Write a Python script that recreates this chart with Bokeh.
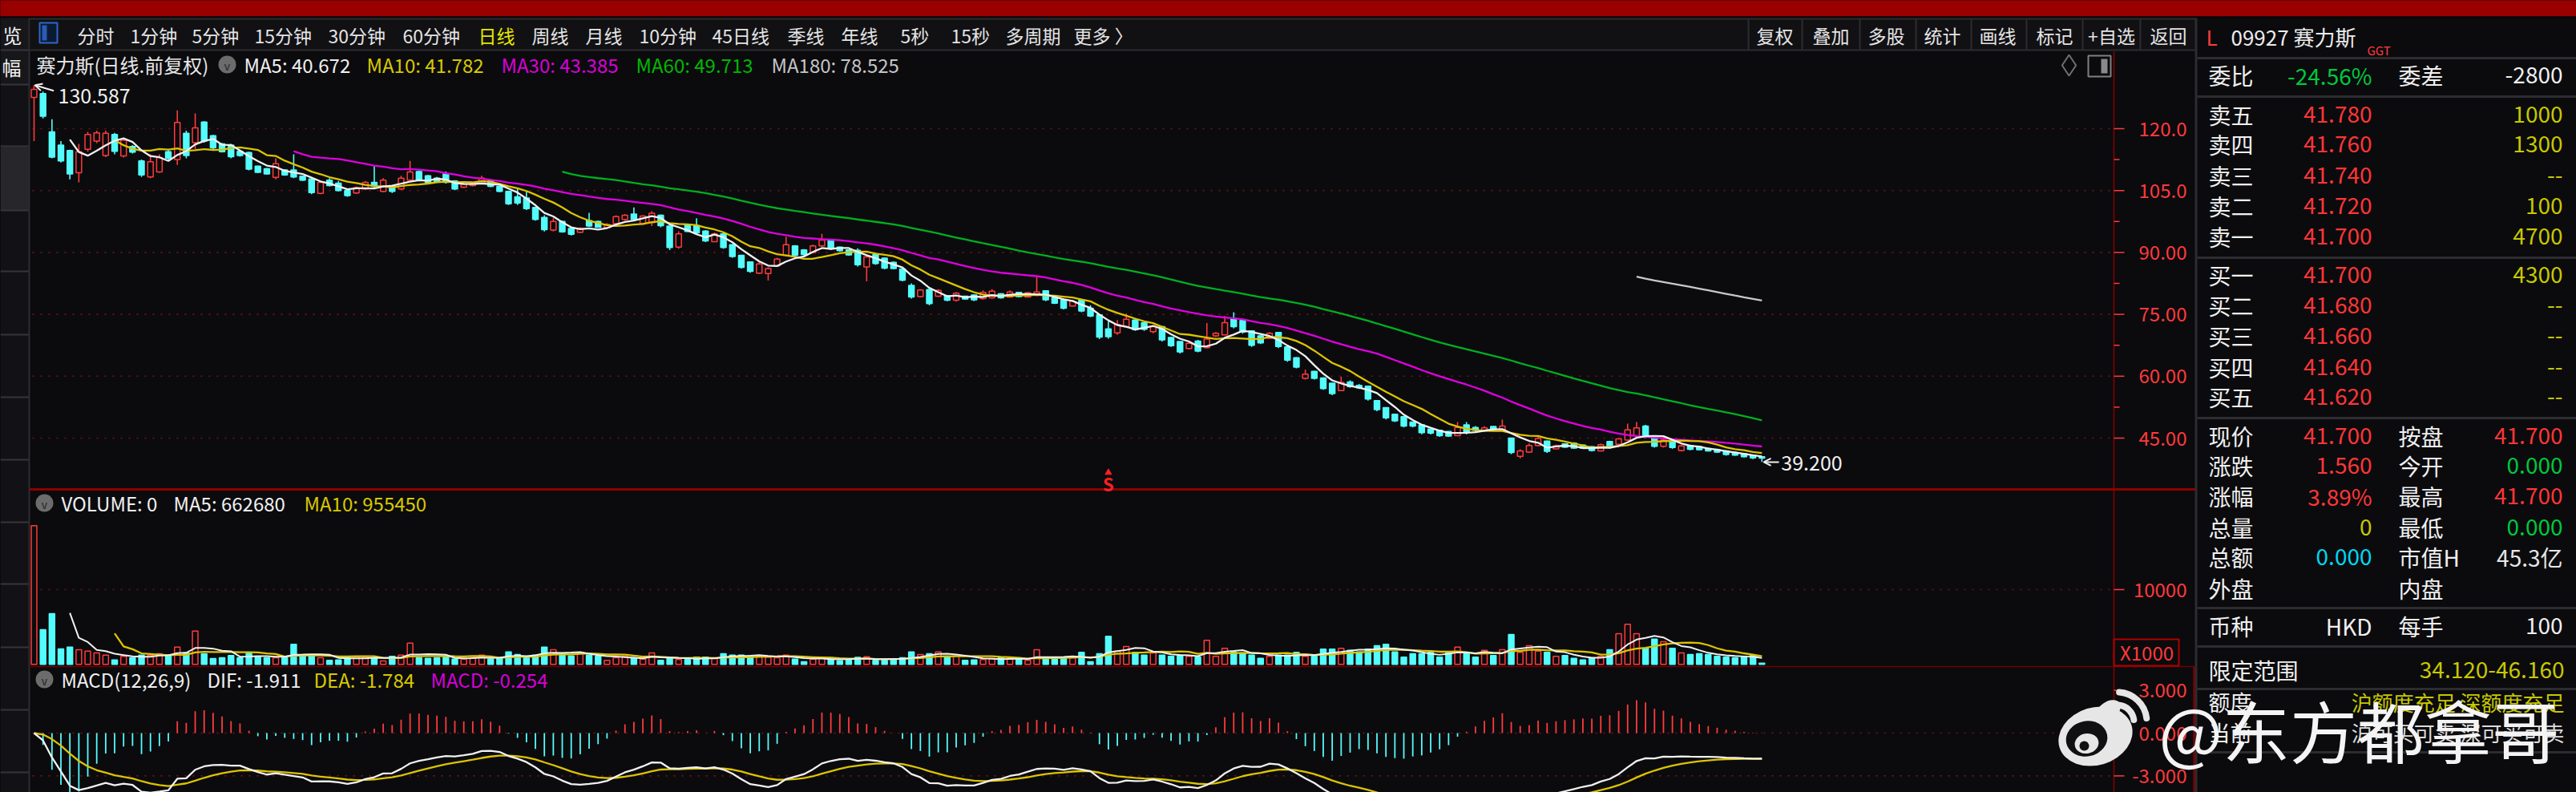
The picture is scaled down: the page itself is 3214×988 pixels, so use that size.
import numpy as np
import pandas as pd
from bokeh.plotting import figure
from bokeh.models import Range1d, Arrow, OpenHead
from bokeh.core.properties import value
from bokeh.embed import file_html
from bokeh.resources import INLINE

# ---------------------------------------------------------------- data
opens = [127.6, 128.5, 119.2, 116.0, 114.7, 109.3, 115.0, 117.0, 113.5, 118.6,
         113.4, 115.7, 112.2, 108.3, 109.5, 114.4, 112.5, 118.9, 116.6, 121.6,
         118.3, 116.3, 116.0, 114.5, 114.2, 110.9, 110.3, 108.2, 110.0, 110.0,
         108.5, 107.8, 104.3, 107.5, 106.8, 105.0, 104.4, 105.4, 107.0, 104.8,
         106.0, 105.4, 107.5, 109.6, 108.6, 108.0, 109.0, 107.3, 105.8, 106.2,
         106.7, 107.3, 106.0, 104.8, 103.5, 103.2, 100.9, 98.5, 95.4, 97.5,
         95.8, 94.9, 97.7, 97.5, 96.0, 97.0, 98.0, 99.3, 97.0, 97.2,
         99.0, 96.4, 91.3, 96.8, 96.5, 95.2, 92.6, 94.5, 91.9, 89.3,
         87.7, 85.0, 84.9, 86.8, 89.3, 91.6, 90.6, 90.0, 91.6, 92.9,
         91.3, 90.6, 90.5, 86.5, 89.5, 88.6, 87.6, 86.0, 82.0, 79.3,
         81.0, 79.4, 79.5, 78.4, 79.4, 79.7, 78.8, 79.0, 80.0, 79.2,
         80.3, 79.2, 79.6, 80.7, 79.0, 78.5, 77.0, 78.5, 76.5, 74.9,
         71.5, 70.5, 72.0, 73.6, 73.0, 70.8, 72.0, 69.4, 68.4, 66.7,
         68.5, 66.9, 69.8, 70.0, 74.0, 73.5, 71.0, 69.8, 69.2, 70.6,
         67.1, 64.5, 59.5, 61.2, 59.6, 58.3, 56.5, 58.6, 57.8, 57.6,
         54.1, 52.4, 50.8, 50.2, 48.9, 48.2, 47.2, 46.9, 46.6, 45.6,
         48.2, 47.6, 46.9, 47.8, 47.0, 45.0, 40.6, 41.6, 43.2, 44.3,
         42.4, 43.6, 43.8, 43.3, 42.9, 41.9, 44.2, 43.5, 44.5, 45.5,
         47.9, 45.0, 43.0, 44.3, 42.0, 43.2, 42.9, 42.5, 42.2, 41.9,
         41.5, 41.2, 40.8, 40.5]
highs = [130.587, 129.0, 122.3, 117.0, 114.9, 116.3, 119.2, 119.5, 119.5, 119.0,
         117.6, 116.0, 112.5, 113.8, 113.8, 115.0, 124.4, 119.5, 123.7, 121.8,
         118.5, 116.5, 116.3, 114.7, 114.4, 111.0, 110.5, 112.8, 110.2, 113.8,
         108.6, 108.0, 107.3, 108.0, 107.3, 105.4, 106.0, 107.3, 110.9, 108.0,
         106.2, 108.6, 112.2, 109.8, 108.8, 108.3, 109.6, 107.5, 106.7, 107.0,
         108.6, 107.5, 106.2, 105.0, 105.4, 104.8, 101.0, 99.0, 98.3, 97.7,
         96.1, 96.1, 99.6, 97.7, 97.1, 99.0, 99.3, 100.9, 99.0, 100.0,
         99.2, 96.5, 95.1, 97.0, 98.3, 95.4, 94.8, 94.8, 92.0, 89.4,
         87.8, 87.7, 86.4, 88.7, 93.8, 91.8, 90.8, 91.9, 94.5, 93.0,
         91.4, 90.7, 91.0, 89.2, 89.8, 88.8, 87.8, 86.1, 82.5, 81.1,
         81.4, 81.1, 79.6, 80.4, 79.5, 79.8, 80.8, 81.1, 80.1, 80.8,
         80.4, 80.4, 84.0, 80.8, 79.1, 78.8, 78.5, 78.8, 77.2, 75.0,
         73.3, 73.6, 75.2, 73.9, 73.3, 72.3, 72.2, 69.5, 68.5, 68.4,
         68.8, 72.9, 70.7, 74.6, 75.5, 73.9, 71.1, 70.0, 70.7, 70.7,
         67.2, 64.6, 61.6, 61.3, 59.7, 58.4, 59.9, 59.0, 58.1, 57.7,
         54.2, 52.5, 50.9, 50.3, 49.0, 48.3, 47.3, 47.0, 46.7, 48.9,
         48.9, 47.9, 47.9, 47.9, 49.5, 45.1, 42.3, 43.7, 45.3, 44.4,
         43.4, 43.7, 44.0, 43.4, 43.05, 43.7, 44.35, 45.0, 48.5, 48.9,
         48.2, 45.1, 45.3, 44.35, 43.4, 43.4, 43.05, 42.7, 42.4, 42.05,
         41.75, 41.4, 40.9, 40.6]
lows = [117.0, 122.5, 112.8, 111.8, 107.7, 107.0, 114.4, 116.5, 113.1, 113.8,
        113.0, 114.0, 108.3, 108.0, 109.3, 112.5, 111.2, 112.8, 115.0, 116.6,
        115.0, 114.2, 112.8, 113.2, 109.9, 109.2, 108.9, 107.7, 108.6, 108.0,
        107.3, 104.1, 104.1, 106.0, 104.8, 103.5, 104.2, 105.1, 105.7, 104.6,
        104.4, 105.2, 107.3, 107.3, 106.7, 107.0, 106.7, 105.1, 105.6, 106.0,
        106.5, 105.8, 104.6, 101.5, 101.5, 100.3, 97.7, 95.1, 95.1, 94.8,
        94.1, 94.7, 96.2, 96.0, 95.8, 96.8, 97.7, 97.7, 96.7, 96.4,
        96.1, 90.6, 90.9, 95.0, 94.5, 92.5, 92.5, 90.9, 88.7, 86.1,
        85.1, 84.8, 83.2, 86.6, 89.0, 89.0, 89.2, 89.8, 91.4, 90.6,
        90.2, 89.2, 86.6, 83.0, 87.0, 85.9, 85.9, 83.0, 78.8, 79.1,
        77.2, 79.2, 78.2, 78.1, 78.5, 78.2, 78.6, 78.8, 78.8, 79.1,
        79.1, 79.1, 79.4, 78.2, 77.5, 76.2, 76.9, 75.5, 74.3, 69.0,
        69.1, 70.0, 71.7, 71.0, 71.0, 70.4, 68.4, 67.1, 65.5, 66.5,
        65.8, 66.8, 69.5, 69.9, 71.6, 70.3, 67.1, 67.8, 69.0, 66.8,
        63.5, 61.9, 59.2, 59.2, 56.7, 55.4, 56.4, 57.2, 56.9, 54.1,
        51.5, 49.5, 48.9, 47.6, 47.6, 45.95, 45.9, 45.3, 45.3, 45.5,
        45.9, 46.6, 46.8, 46.9, 46.9, 41.1, 40.1, 41.4, 43.0, 41.4,
        42.3, 42.6, 42.4, 42.4, 41.75, 41.75, 42.4, 43.3, 44.3, 45.2,
        45.0, 42.7, 42.7, 42.4, 41.75, 42.05, 42.05, 41.75, 41.4, 40.75,
        40.75, 40.3, 39.9, 39.2]
closes = [129.5, 123.0, 113.1, 112.2, 109.0, 114.4, 118.6, 119.0, 118.9, 114.5,
          117.2, 114.3, 108.8, 112.0, 113.0, 112.8, 121.5, 113.5, 120.2, 117.0,
          115.4, 114.4, 113.2, 113.5, 110.2, 109.4, 109.0, 111.5, 108.8, 108.3,
          107.5, 104.5, 107.0, 106.2, 105.0, 103.8, 105.7, 107.0, 106.0, 107.5,
          104.8, 108.0, 109.5, 107.6, 107.0, 107.2, 107.0, 105.4, 106.5, 106.8,
          108.0, 106.0, 104.8, 101.8, 102.0, 100.6, 98.0, 95.5, 97.5, 95.0,
          94.4, 95.8, 96.4, 96.1, 96.8, 98.7, 99.0, 98.0, 98.8, 99.5,
          96.5, 91.2, 94.5, 95.1, 94.8, 92.8, 94.5, 91.2, 89.0, 86.4,
          85.4, 87.2, 86.1, 88.4, 91.9, 89.3, 89.5, 91.6, 93.0, 90.9,
          90.4, 89.4, 87.0, 88.9, 87.3, 86.2, 86.1, 83.3, 79.2, 80.9,
          77.6, 80.8, 78.4, 80.1, 78.7, 78.5, 80.3, 80.6, 79.0, 80.4,
          79.3, 80.2, 80.4, 78.5, 77.7, 76.5, 78.2, 75.8, 74.6, 69.5,
          69.6, 72.5, 73.8, 71.3, 71.4, 72.0, 68.8, 67.4, 65.9, 68.0,
          66.1, 69.0, 70.4, 73.0, 72.0, 70.7, 67.5, 68.1, 70.4, 67.2,
          63.9, 62.2, 60.5, 59.5, 57.0, 55.8, 58.5, 57.5, 57.2, 54.5,
          51.9, 49.9, 49.2, 47.9, 47.9, 46.3, 46.2, 45.6, 45.5, 47.6,
          46.5, 46.9, 47.5, 47.1, 47.9, 41.5, 41.9, 43.2, 44.9, 41.8,
          43.1, 42.8, 42.6, 42.6, 42.0, 43.4, 42.7, 44.8, 47.0, 47.5,
          45.3, 43.0, 44.5, 42.7, 43.1, 42.3, 42.2, 41.9, 41.6, 41.0,
          40.9, 40.5, 40.2, 40.14]
volumes = [18560, 4641, 6783, 2071, 2320, 1964, 1785, 1535, 1250, 607,      # x1000 shares
           1071, 892, 1250, 1250, 1428, 1250, 2320, 1535, 4462, 1428,
           785, 892, 1178, 892, 1535, 964, 892, 892, 892, 2677,
           1178, 1142, 892, 535, 607, 892, 1071, 964, 892, 464,
           1071, 1250, 2856, 892, 821, 892, 964, 714, 714, 892,
           1250, 714, 892, 1678, 1321, 892, 1250, 2320, 1964, 1250,
           1142, 1535, 1250, 1071, 535, 892, 1071, 892, 714, 1535,
           535, 892, 642, 642, 964, 964, 785, 1428, 1250, 1250,
           1142, 1071, 964, 892, 1250, 714, 357, 714, 892, 892,
           500, 535, 930, 1020, 535, 535, 607, 892, 1678, 1321,
           1428, 1678, 1071, 1142, 535, 607, 642, 821, 892, 714,
           714, 535, 1964, 892, 714, 892, 892, 1607, 357, 1428,
           3749, 1785, 2392, 1607, 1250, 1535, 1250, 1071, 1178, 1071,
           964, 3213, 1071, 2142, 1607, 1535, 1250, 821, 1071, 1250,
           1250, 1607, 1071, 1071, 2035, 2035, 2142, 1892, 1678, 2035,
           2499, 2677, 1678, 964, 1428, 1428, 1607, 964, 1678, 2320,
           1428, 964, 1892, 1178, 1964, 3998, 1607, 2499, 1785, 1607,
           1071, 1178, 821, 607, 821, 1071, 1964, 4106, 5355, 4106,
           2142, 3392, 3035, 2142, 1535, 1321, 1428, 1321, 1071, 964,
           892, 1071, 1178, 178]
signal_index = 120          # the red "S" marker

price_ticks = [120, 105, 90, 75, 60, 45]
price_tick_labels = ["120.0", "105.0", "90.00", "75.00", "60.00", "45.00"]
price_minor_ticks = [112.5, 97.5, 82.5, 67.5, 52.5]
vol_ticks = [10000]
vol_tick_labels = ["10000"]
vol_unit_label = "X1000"
macd_ticks = [3, 0, -3]
macd_tick_labels = ["3.000", "0.000", "-3.000"]
macd_grid = [0, -3]

main_title = "赛力斯(日线.前复权)"
ma_titles = ["MA5: 40.672", "MA10: 41.782", "MA30: 43.385", "MA60: 49.713", "MA180: 78.525"]
vol_titles = ["VOLUME: 0", "MA5: 662680", "MA10: 955450"]
macd_titles = ["MACD(12,26,9)", "DIF: -1.911", "DEA: -1.784", "MACD: -0.254"]
periods = ["分时", "1分钟", "5分钟", "15分钟", "30分钟", "60分钟", "日线", "周线", "月线",
           "10分钟", "45日线", "季线", "年线", "5秒", "15秒", "多周期", "更多 〉"]
active_period = "日线"
tools = ["复权", "叠加", "多股", "统计", "画线", "标记", "+自选", "返回"]

stock_code = "09927 赛力斯"
wb_row = ("委比", "-24.56%", "委差", "-2800")
sell_labels = ["卖五", "卖四", "卖三", "卖二", "卖一"]
sell_prices = ["41.780", "41.760", "41.740", "41.720", "41.700"]
sell_vols = ["1000", "1300", "--", "100", "4700"]
buy_labels = ["买一", "买二", "买三", "买四", "买五"]
buy_prices = ["41.700", "41.680", "41.660", "41.640", "41.620"]
buy_vols = ["4300", "--", "--", "--", "--"]
stat_rows = [("现价", "41.700", "r", "按盘", "41.700", "r"),
             ("涨跌", "1.560", "r", "今开", "0.000", "g"),
             ("涨幅", "3.89%", "r", "最高", "41.700", "r"),
             ("总量", "0", "y", "最低", "0.000", "g"),
             ("总额", "0.000", "c", "市值H", "45.3亿", "w"),
             ("外盘", "", "w", "内盘", "", "w")]
currency_row = ("币种", "HKD", "每手", "100")
limit_row = ("限定范围", "34.120-46.160")
quota_row = ("额度", "沪额度充足 深额度充足")
status_row = ("当前", "沪可买可卖 深可买可卖")
watermark = "@东方都拿哥"

# ---------------------------------------------------------------- derived series
N = len(closes)
idx = np.arange(N)
cl = pd.Series(closes, dtype=float)
ma5 = cl.rolling(5).mean()
ma10 = cl.rolling(10).mean()
ma30 = cl.rolling(30).mean()
ma60 = cl.rolling(60).mean()
ma180 = cl.rolling(180).mean()
vs = pd.Series(volumes, dtype=float)
vma5 = vs.rolling(5).mean()
vma10 = vs.rolling(10).mean()
ema12 = cl.ewm(span=12, adjust=False).mean()
ema26 = cl.ewm(span=26, adjust=False).mean()
dif = ema12 - ema26
dea = dif.ewm(span=9, adjust=False).mean()
macd = 2 * (dif - dea)

# ---------------------------------------------------------------- layout constants
W, H = 3214, 988
OFF = 0
FONT = "Noto Sans CJK SC"
BG = "#0b0b0e"
RED = "#ff3b3b"
CYAN = "#54fcfc"
LBL = "#ff3a3a"
GRID = "#7a1212"
AXL = "#860000"
WHITE = "#f0f0f0"
YEL = "#dcc400"
MAG = "#e000e0"
GRN = "#00b020"
GRY = "#c8c8c8"
PANEL_LINE = "#2c2c31"
COLS = {"r": "#ff3636", "g": "#00c83c", "y": "#c8c800", "c": "#00d8f0", "w": "#e6e6e6"}

STEP = 11.17
BAR0 = 42.0
PRICE_REF, PRICE_REF_Y, PRICE_PX = 120.0, 160.0, 5.147
VOL_ZERO_Y, VOL_PX = 828.3, 0.00933
MACD_ZERO_Y, MACD_PX = 914.0, 17.8


def X(v):
    return v - OFF


def Y(v):
    return v - OFF


ix_start = -X(BAR0) / STEP
pr_end = PRICE_REF + Y(PRICE_REF_Y) / PRICE_PX
v_end = Y(VOL_ZERO_Y) / VOL_PX
m_end = Y(MACD_ZERO_Y) / MACD_PX

p = figure(width=W, height=H, x_range=Range1d(0, W), y_range=Range1d(H, 0),
           x_axis_type=None, y_axis_type=None, output_backend="svg",
           toolbar_location=None, min_border=0, background_fill_color=BG,
           border_fill_color=BG, outline_line_color=None)
p.extra_x_ranges = {"ix": Range1d(ix_start, ix_start + W / STEP)}
p.extra_y_ranges = {"price": Range1d(pr_end - H / PRICE_PX, pr_end),
                    "vol": Range1d(v_end - H / VOL_PX, v_end),
                    "macd": Range1d(m_end - H / MACD_PX, m_end)}
try:
    from bokeh.models import GlobalInlineStyleSheet
    p.stylesheets = [GlobalInlineStyleSheet(
        css="html,body{background:linear-gradient(to bottom,#990000 0px,#990000 20px,#0b0b0e 20px);}")]
except Exception:
    pass


def box(x0, y0, x1, y1, fill, line=None, lw=1):
    p.quad(left=[X(x0)], right=[X(x1)], top=[Y(y0)], bottom=[Y(y1)],
           fill_color=fill, line_color=line, line_width=lw)


def hline(y, x0, x1, color, lw=1, dash="solid"):
    p.segment(x0=[X(x0)], y0=[Y(y)], x1=[X(x1)], y1=[Y(y)], line_color=color, line_width=lw, line_dash=dash)


def vline(x, y0, y1, color, lw=1):
    p.segment(x0=[X(x)], y0=[Y(y0)], x1=[X(x)], y1=[Y(y1)], line_color=color, line_width=lw)


def T(x, y, s, color, size, align="left", baseline="middle"):
    p.text(x=[X(x)], y=[Y(y)], text=[s], text_color=color, text_font_size=f"{size}px",
           text_align=align, text_baseline=baseline, text_font=value(FONT))


# ---------------------------------------------------------------- frame / chrome
box(0, 0, 3214, 20, "#990000")
box(0, 20, 3214, 22, "#050506")
box(0, 22, 36, 988, "#121216")
box(0, 22, 36, 105, "#17171b")
box(0, 183, 36, 262, "#26262b")
for yy in [62, 105, 182, 262, 338, 417, 495, 573, 651, 728, 807, 885, 963]:
    hline(yy, 0, 36, "#34343a", 2)
vline(36, 22, 988, PANEL_LINE, 2)
T(15, 43, "览", WHITE, 24, "center")
T(14, 83, "幅", WHITE, 24, "center")

# toolbar
box(37, 22, 2739, 62, "#111114")
hline(23, 36, 2739, PANEL_LINE, 2)
hline(62, 36, 2739, PANEL_LINE, 2)
box(49, 28, 71, 53, "#0b1a33", "#2f66c8", 2)
box(52, 31, 58, 50, "#2a5bb5")
period_x = [96, 162, 239, 317, 409, 502, 596, 663, 730, 797, 888, 982, 1049, 1123, 1186, 1254, 1339]
for px_, s in zip(period_x, periods):
    T(px_, 43, s, "#e6e600" if s == active_period else "#e4e4e4", 23)
tool_sep = [2181, 2248, 2320, 2390, 2459, 2528, 2598, 2670]
tool_cx = [2214, 2284, 2353, 2423, 2492, 2563, 2634, 2705]
for sx in tool_sep:
    vline(sx, 23, 62, PANEL_LINE, 2)
for cx_, s in zip(tool_cx, tools):
    T(cx_, 43, s, "#e4e4e4", 23, "center")

# right panel frame
vline(2739.5, 22, 988, PANEL_LINE, 3)
for yy in [72, 120, 321, 521, 758, 806, 859, 938]:
    hline(yy, 2741, 3214, PANEL_LINE, 3)

# chart panel lines
vline(2637, 63, 988, AXL, 1.5)
hline(610, 36, 2739, "#8e0000", 3)
hline(831, 36, 2737, "#6e0000", 1.5)
vline(2737, 831, 988, "#8e0000", 2)

# ---------------------------------------------------------------- grids, ticks, tick labels
nP = len(price_ticks)
p.segment(x0=[X(40)] * nP, x1=[X(2634)] * nP, y0=price_ticks, y1=price_ticks, y_range_name="price",
          line_color=GRID, line_width=1.6, line_dash="2 8")
p.segment(x0=[X(2637)] * nP, x1=[X(2650)] * nP, y0=price_ticks, y1=price_ticks, y_range_name="price",
          line_color=LBL, line_width=1.5)
p.segment(x0=[X(2637)] * len(price_minor_ticks), x1=[X(2644)] * len(price_minor_ticks),
          y0=price_minor_ticks, y1=price_minor_ticks, y_range_name="price", line_color=LBL, line_width=1.5)
p.text(x=[X(2728)] * nP, y=price_ticks, text=price_tick_labels, y_range_name="price",
       text_color=LBL, text_font_size="24px", text_align="right", text_baseline="middle", text_font=value(FONT))

p.segment(x0=[X(40)], x1=[X(2634)], y0=vol_ticks, y1=vol_ticks, y_range_name="vol",
          line_color=GRID, line_width=1.6, line_dash="2 8")
p.segment(x0=[X(2637)], x1=[X(2650)], y0=vol_ticks, y1=vol_ticks, y_range_name="vol", line_color=LBL, line_width=1.5)
p.text(x=[X(2728)], y=vol_ticks, text=vol_tick_labels, y_range_name="vol",
       text_color=LBL, text_font_size="24px", text_align="right", text_baseline="middle", text_font=value(FONT))
box(2637, 797, 2718, 830, None, "#b00000", 2)
T(2678, 813, vol_unit_label, LBL, 24, "center")

p.segment(x0=[X(40)] * len(macd_grid), x1=[X(2634)] * len(macd_grid), y0=macd_grid, y1=macd_grid,
          y_range_name="macd", line_color=GRID, line_width=1.6, line_dash="2 8")
p.segment(x0=[X(2637)] * 3, x1=[X(2650)] * 3, y0=macd_ticks, y1=macd_ticks, y_range_name="macd",
          line_color=LBL, line_width=1.5)
p.text(x=[X(2728)] * 3, y=macd_ticks, text=macd_tick_labels, y_range_name="macd",
       text_color=LBL, text_font_size="24px", text_align="right", text_baseline="middle", text_font=value(FONT))

# ---------------------------------------------------------------- candles
up = [i for i in range(N) if closes[i] >= opens[i]]
dn = [i for i in range(N) if closes[i] < opens[i]]
for sel, col, fill in [(dn, CYAN, CYAN), (up, RED, BG)]:
    p.segment(x0=sel, x1=sel, y0=[lows[i] for i in sel], y1=[highs[i] for i in sel],
              x_range_name="ix", y_range_name="price", line_color=col, line_width=1.6)
    p.vbar(x=sel, width=0.62, top=[max(opens[i], closes[i]) for i in sel],
           bottom=[min(opens[i], closes[i]) for i in sel], x_range_name="ix", y_range_name="price",
           fill_color=fill, line_color=col, line_width=1.5)

for ser, col in [(ma180, GRY), (ma60, GRN), (ma30, MAG), (ma10, YEL), (ma5, WHITE)]:
    p.line(idx, ser.values, x_range_name="ix", y_range_name="price", line_color=col, line_width=2.3)

# high / low annotations
hi_i = int(np.argmax(highs))
lo_i = int(np.argmin(lows))
p.add_layout(Arrow(x_start=hi_i + 2.2, y_start=highs[hi_i] - 1.4, x_end=hi_i + 0.1, y_end=highs[hi_i] - 0.05,
                   x_range_name="ix", y_range_name="price", line_color=WHITE, line_width=2,
                   end=OpenHead(size=9, line_color=WHITE, line_width=2)))
p.text(x=[hi_i], y=[highs[hi_i]], text=[f"{highs[hi_i]:.3f}"], x_range_name="ix", y_range_name="price",
       x_offset=30, y_offset=13, text_color=WHITE, text_font_size="25px", text_baseline="middle",
       text_font=value(FONT))
p.add_layout(Arrow(x_start=lo_i + 1.9, y_start=lows[lo_i], x_end=lo_i + 0.2, y_end=lows[lo_i],
                   x_range_name="ix", y_range_name="price", line_color=WHITE, line_width=2,
                   end=OpenHead(size=9, line_color=WHITE, line_width=2)))
p.text(x=[lo_i], y=[lows[lo_i]], text=[f"{lows[lo_i]:.3f}"], x_range_name="ix", y_range_name="price",
       x_offset=24, y_offset=1, text_color=WHITE, text_font_size="25px", text_baseline="middle",
       text_font=value(FONT))

# S marker
p.scatter(x=[signal_index], y=[Y(589)], x_range_name="ix", marker="triangle", size=8,
          fill_color="#ff2020", line_color="#ff2020")
p.text(x=[signal_index], y=[Y(602)], x_range_name="ix", text=["S"], text_color="#ff2020",
       text_font_size="22px", text_align="center", text_baseline="middle", text_font=value(FONT),
       text_font_style="bold")

# ---------------------------------------------------------------- volume
for sel, col, fill in [(dn, CYAN, CYAN), (up, RED, BG)]:
    p.vbar(x=sel, width=0.62, top=[volumes[i] for i in sel], bottom=0, x_range_name="ix", y_range_name="vol",
           fill_color=fill, line_color=col, line_width=1.5)
p.line(idx, vma10.values, x_range_name="ix", y_range_name="vol", line_color=YEL, line_width=2.3)
p.line(idx, vma5.values, x_range_name="ix", y_range_name="vol", line_color=WHITE, line_width=2)

# ---------------------------------------------------------------- MACD
mpos = [i for i in range(N) if macd[i] >= 0]
mneg = [i for i in range(N) if macd[i] < 0]
p.segment(x0=mpos, x1=mpos, y0=[0] * len(mpos), y1=[macd[i] for i in mpos], x_range_name="ix",
          y_range_name="macd", line_color=RED, line_width=1.8)
p.segment(x0=mneg, x1=mneg, y0=[0] * len(mneg), y1=[macd[i] for i in mneg], x_range_name="ix",
          y_range_name="macd", line_color=CYAN, line_width=1.8)
p.line(idx, dea.values, x_range_name="ix", y_range_name="macd", line_color=YEL, line_width=2.3)
p.line(idx, dif.values, x_range_name="ix", y_range_name="macd", line_color=WHITE, line_width=2.3)

# ---------------------------------------------------------------- panel titles
T(45, 80, main_title, "#e8e8e8", 24)
p.scatter(x=[X(283)], y=[Y(80)], marker="circle", size=22, fill_color="#6c6c6c", line_color=None)
T(283, 81, "v", "#262626", 14, "center")
for x0, s, c in zip([304, 457, 625, 793, 962], ma_titles, [WHITE, "#d8c800", "#d800d8", "#00b800", "#c4c4c4"]):
    T(x0, 80, s, c, 24)
p.scatter(x=[X(2581)], y=[Y(81)], marker="diamond", size=26, fill_color=None, line_color="#707070", line_width=2)
box(2605, 69, 2633, 95, None, "#808080", 2)
box(2621, 73, 2629, 91, "#8a8a8a")

for yy in [627, 847]:
    p.scatter(x=[X(55)], y=[Y(yy)], marker="circle", size=22, fill_color="#6c6c6c", line_color=None)
    T(55, yy + 1, "v", "#262626", 14, "center")
for x0, s, c in zip([76, 216, 379], vol_titles, [WHITE, WHITE, "#d8c800"]):
    T(x0, 627, s, c, 24)
for x0, s, c in zip([76, 258, 391, 537], macd_titles, [WHITE, WHITE, "#d8c800", "#d800d8"]):
    T(x0, 847, s, c, 24)

# ---------------------------------------------------------------- right quote panel
L1, V1, L2, V2 = 2755, 2959, 2992, 3197
T(2752, 45, "L", RED, 26)
T(2783, 45, stock_code, "#ececec", 26)
T(2953, 62, "GGT", RED, 15)
T(L1, 93, wb_row[0], WHITE, 28)
T(V1, 93, wb_row[1], COLS["g"], 28, "right")
T(L2, 93, wb_row[2], WHITE, 28)
T(V2, 93, wb_row[3], WHITE, 28, "right")
for yy, a, b, c in zip([142, 179, 218, 256, 294], sell_labels, sell_prices, sell_vols):
    T(L1, yy, a, WHITE, 28)
    T(V1, yy, b, COLS["r"], 28, "right")
    T(V2, yy, c, COLS["y"], 28, "right")
for yy, a, b, c in zip([342, 380, 418, 457, 494], buy_labels, buy_prices, buy_vols):
    T(L1, yy, a, WHITE, 28)
    T(V1, yy, b, COLS["r"], 28, "right")
    T(V2, yy, c, COLS["y"], 28, "right")
for yy, (a, b, bc, c, d, dc) in zip([543, 580, 618, 657, 694, 733], stat_rows):
    T(L1, yy, a, WHITE, 28)
    if b:
        T(V1, yy, b, COLS[bc], 28, "right")
    T(L2, yy, c, WHITE, 28)
    if d:
        T(V2, yy, d, COLS[dc], 28, "right")
T(L1, 780, currency_row[0], WHITE, 28)
T(V1, 780, currency_row[1], WHITE, 28, "right")
T(L2, 780, currency_row[2], WHITE, 28)
T(V2, 780, currency_row[3], WHITE, 28, "right")
T(L1, 835, limit_row[0], WHITE, 28)
T(3199, 835, limit_row[1], COLS["y"], 28, "right")
T(L1, 875, quota_row[0], WHITE, 27)
T(3199, 875, quota_row[1], COLS["y"], 26, "right")
T(L1, 913, status_row[0], WHITE, 27)
T(3199, 913, status_row[1], "#dcdcdc", 26, "right")

# ---------------------------------------------------------------- watermark
WM = "#e6e6e6"
p.ellipse(x=[X(2614)], y=[Y(918)], width=[94], height=[72], angle=[0.3], fill_color=WM, line_color=None)
p.ellipse(x=[X(2630)], y=[Y(886)], width=[34], height=[22], angle=[0.6], fill_color=WM, line_color=None)
p.ellipse(x=[X(2603)], y=[Y(921)], width=[52], height=[44], angle=[0.2], fill_color="#101012", line_color=None)
p.ellipse(x=[X(2603)], y=[Y(927)], width=[30], height=[25], angle=[0.2], fill_color=WM, line_color=None)
p.scatter(x=[X(2600)], y=[Y(930)], marker="circle", size=12, fill_color="#101012", line_color=None)
p.scatter(x=[X(2607)], y=[Y(925)], marker="circle", size=5, fill_color=WM, line_color=None)
for r in [37, 21]:
    p.arc(x=[X(2641)], y=[Y(900)], radius=r, start_angle=0.12, end_angle=1.5, line_color=WM,
          line_width=8, line_cap="round")
T(2693, 909, watermark, "#f4f4f4", 84)

open("out.html", "w").write(file_html(p, INLINE))
